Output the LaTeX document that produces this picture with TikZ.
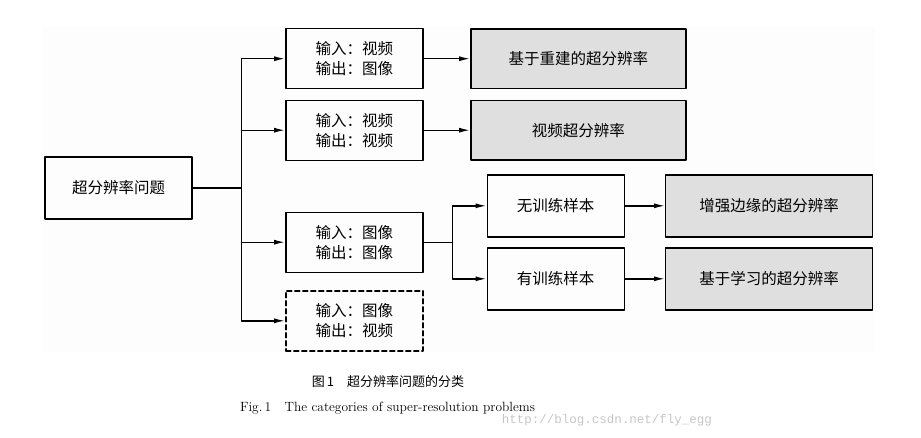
\documentclass[tikz,border=0pt]{standalone}
\usepackage{fontspec}
\newfontfamily\cjk{Noto Sans CJK SC}
\setmonofont{Liberation Mono}
\usetikzlibrary{arrows.meta}

\begin{document}
\begin{tikzpicture}[line cap=round,line join=round,x=1pt,y=-1pt,
	>={Latex[length=11pt,width=5pt]},
	box/.style={draw,line width=1.4pt,minimum height=60pt,inner sep=0pt,
		font=\cjk\fontsize{15.5}{20}\selectfont,align=center},
	greybox/.style={box,fill=gray!25},
	dashbox/.style={box,dash pattern=on 5pt off 3pt},
	link/.style={line width=1.4pt}]
		\useasboundingbox (0,0) rectangle (921,437);
		\fill [gray!1.5] (43,27) rectangle (875,352);
		% left column
		\node [box,minimum width=147pt,minimum height=62pt] (root) at (118.5,188) {超分辨率问题};
		\node [box,minimum width=137pt] (vi) at (354.3,58.7) {输入：视频\\输出：图像};
		\node [box,minimum width=137pt] (vv) at (354.3,130.2) {输入：视频\\输出：视频};
		\node [box,minimum width=137pt] (ii) at (354.3,242.2) {输入：图像\\输出：图像};
		\node [dashbox,minimum width=137pt] (iv) at (354.3,320.8) {输入：图像\\输出：视频};
		% right column
		\node [greybox,minimum width=215pt,minimum height=59.5pt] (recon) at (578.3,58.7) {基于重建的超分辨率};
		\node [greybox,minimum width=215pt,minimum height=59.5pt] (video) at (578.3,130.2) {视频超分辨率};
		\node [box,minimum width=137pt,minimum height=62pt] (nosample) at (555.7,205.8) {无训练样本};
		\node [box,minimum width=137pt,minimum height=62pt] (sample) at (555.7,278.8) {有训练样本};
		\node [greybox,minimum width=207pt,minimum height=62pt] (edge) at (769.2,205.8) {增强边缘的超分辨率};
		\node [greybox,minimum width=207pt,minimum height=62pt] (learn) at (769.2,278.8) {基于学习的超分辨率};
		% connectors
		\coordinate (split) at (241.3,188);
		\coordinate (split2) at (452.3,242.2);
		\draw [link] (root.east) -- (split);
		\draw [link,->] (split) |- (vi.west);
		\draw [link,->] (split) |- (vv.west);
		\draw [link,->] (split) |- (ii.west);
		\draw [link,->] (split) |- (iv.west);
		\draw [link,->] (vi.east) -- (recon.west);
		\draw [link,->] (vv.east) -- (video.west);
		\draw [link] (ii.east) -- (split2);
		\draw [link,->] (split2) |- (nosample.west);
		\draw [link,->] (split2) |- (sample.west);
		\draw [link,->] (nosample.east) -- (edge.west);
		\draw [link,->] (sample.east) -- (learn.west);
		% caption
		\node [font=\cjk\fontsize{13}{15}\selectfont] (capzh) at (388,381.7) {图\,1\quad 超分辨率问题的分类};
		\node [font=\fontsize{13.4}{15}\selectfont] (capen) at (387.5,407.7) {Fig.\,1\quad The categories of super-resolution problems};
		\node [anchor=west,inner sep=0pt,text=gray!45,font=\ttfamily\fontsize{12.5}{14}\selectfont] (mark) at (501.7,420) {http://blog.csdn.net/fly\_egg};
\end{tikzpicture}
\end{document}
